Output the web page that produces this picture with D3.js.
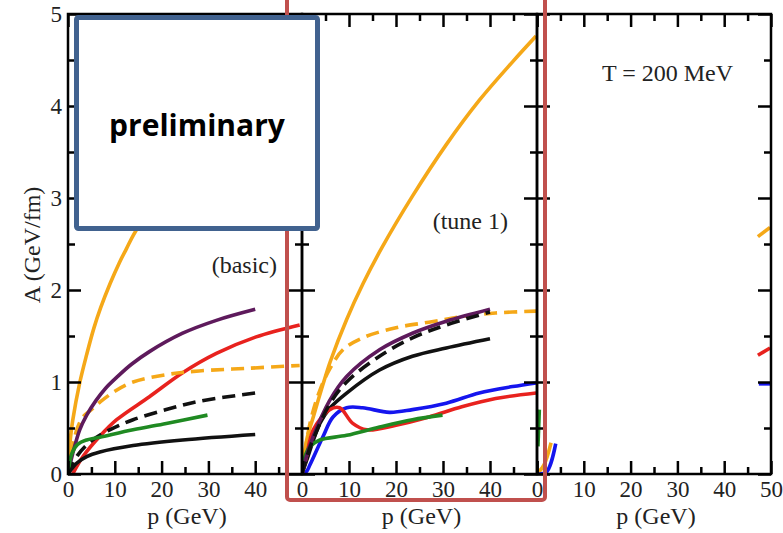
<!DOCTYPE html>
<html><head><meta charset="utf-8">
<script src="https://cdn.jsdelivr.net/npm/d3@7"></script>
<style>body{margin:0;background:#fff;}</style>
</head><body>
<svg id="c" width="783" height="533"></svg>
<script>
// ---------------- DATA ----------------
const panelLabels = ["(basic)", "(tune 1)", "T = 200 MeV"];
const xTickLabels = [[0,10,20,30,40],[0,10,20,30,40],[0,10,20,30,40,50]];
const xMajorTicks = [0,10,20,30,40,50];
const xMinorTicks = [5,15,25,35,45];
const yTickLabels = [0,1,2,3,4,5];
const yMinorTicks = [0.5,1.5,2.5,3.5,4.5];
const xAxisTitle = "p (GeV)";
const yAxisTitle = "A (GeV/fm)";
const stampText = "preliminary";

// Panel 1 (basic): [p, A]
const basicOrange = [[0,0],[0.5,0.38],[1,0.58],[2.5,0.99],[4,1.3],[5.5,1.58],[7,1.81],[9,2.07],[11,2.3],[12.5,2.45],[14,2.6],[20,3.1],[30,3.8],[40,4.4]];
const basicPurple = [[0,0],[1,0.22],[2.5,0.48],[4,0.64],[6,0.8],[8,0.93],[10.4,1.05],[13.5,1.19],[17.4,1.33],[24.5,1.53],[31.7,1.67],[40,1.79]];
const basicRed = [[1,0],[3.2,0.19],[6.8,0.41],[10.4,0.59],[17.4,0.84],[24.5,1.1],[31.7,1.31],[40.2,1.49],[49.5,1.62]];
const basicOrangeDash = [[0,0],[1,0.3],[2,0.5],[3.2,0.62],[5,0.7],[6.8,0.78],[10,0.9],[13.9,1.0],[21,1.08],[28,1.12],[38.7,1.15],[49.5,1.18]];
const basicBlackDash = [[0,0],[2,0.2],[5,0.36],[8.9,0.48],[13.9,0.59],[21,0.7],[28,0.79],[40,0.88]];
const basicGreen = [[0,0],[0.8,0.22],[2,0.32],[4,0.37],[6.8,0.4],[13.9,0.48],[21,0.55],[29.8,0.64]];
const basicBlack = [[0,0],[1.9,0.12],[4,0.19],[6.8,0.24],[13.9,0.31],[24.5,0.37],[40,0.43]];

// Panel 2 (tune 1)
const tuneOrange = [[0,0],[1,0.37],[2.4,0.62],[4.5,0.98],[6,1.22],[9.5,1.68],[13,2.07],[17,2.46],[23.5,3.02],[30.7,3.58],[37.7,4.06],[44.8,4.48],[49.8,4.76]];
const tuneOrangeDash = [[0,0],[1.7,0.55],[3.8,0.91],[6,1.15],[8.7,1.35],[12.9,1.48],[20,1.59],[27,1.65],[34,1.71],[41.2,1.75],[49.8,1.77]];
const tunePurple = [[0,0],[1,0.2],[2.4,0.41],[5.9,0.8],[9.5,1.06],[16.5,1.35],[23.5,1.53],[30.7,1.66],[40,1.79]];
const tuneBlackDash = [[0,0],[1,0.18],[2.4,0.38],[5.9,0.76],[9.5,1.0],[16.5,1.28],[23.5,1.48],[30.7,1.62],[40,1.76]];
const tuneBlack = [[0,0],[1,0.15],[3.8,0.55],[6,0.72],[9.5,0.88],[16.5,1.13],[23.5,1.28],[30.7,1.37],[40,1.47]];
const tuneBlue = [[0,0],[1,0.03],[1.7,0.1],[4.5,0.41],[6.6,0.62],[9.5,0.72],[12.9,0.72],[18.6,0.67],[23.5,0.7],[30.7,0.77],[37.7,0.88],[44.8,0.95],[49.8,0.99]];
const tuneRed = [[0,0],[1,0.2],[2.4,0.48],[5.9,0.7],[8,0.72],[10.8,0.55],[13.8,0.48],[20,0.53],[27,0.62],[34,0.73],[41.2,0.82],[49.8,0.88]];
const tuneGreen = [[0,0],[0.7,0.2],[1.7,0.3],[3.8,0.37],[9.5,0.42],[16.5,0.51],[23.5,0.59],[29.9,0.64]];

// Panel 3 (T = 200 MeV): only fragments remain visible
const hotOrangeLeft = [[0,0],[1.5,0.1],[3.0,0.34]];
const hotBlueLeft = [[0,0],[2,0.02],[4,0.33]];
const hotGreenLeft = [[0.2,0.3],[0.5,0.7]];
const hotOrangeRight = [[47.2,2.58],[49.8,2.68]];
const hotRedRight = [[47.2,1.29],[49.8,1.37]];
const hotBlueRight = [[47.4,0.98],[49.8,0.98]];

// ---------------- STYLE / LAYOUT ----------------
const COL = {orange:"#f5a818", purple:"#5e1a5c", red:"#e8221e", black:"#111111", green:"#1f8a22", blue:"#1515ee"};
const series = [
  {p:0, d:basicOrange, c:COL.orange},
  {p:0, d:basicRed, c:COL.red},
  {p:0, d:basicOrangeDash, c:COL.orange, dash:true},
  {p:0, d:basicPurple, c:COL.purple},
  {p:0, d:basicBlackDash, c:COL.black, dash:true},
  {p:0, d:basicGreen, c:COL.green},
  {p:0, d:basicBlack, c:COL.black},
  {p:1, d:tuneOrange, c:COL.orange},
  {p:1, d:tuneOrangeDash, c:COL.orange, dash:true},
  {p:1, d:tuneBlack, c:COL.black},
  {p:1, d:tuneBlue, c:COL.blue},
  {p:1, d:tuneRed, c:COL.red},
  {p:1, d:tuneGreen, c:COL.green},
  {p:1, d:tunePurple, c:COL.purple},
  {p:1, d:tuneBlackDash, c:COL.black, dash:true},
  {p:2, d:hotGreenLeft, c:COL.green},
  {p:2, d:hotOrangeLeft, c:COL.orange},
  {p:2, d:hotBlueLeft, c:COL.blue},
  {p:2, d:hotOrangeRight, c:COL.orange},
  {p:2, d:hotRedRight, c:COL.red},
  {p:2, d:hotBlueRight, c:COL.blue}
];

const panelRanges = [[68,302],[302,537],[537,771]];
const yTop = 14, yBot = 474;
const y = d3.scaleLinear().domain([0,5]).range([yBot,yTop]);
const xs = panelRanges.map(r => d3.scaleLinear().domain([0,50]).range(r));
const svg = d3.select("#c");
const serif = "'Liberation Serif','Times New Roman',serif";

const defs = svg.append("defs");
xs.forEach((x,i)=>{
  defs.append("clipPath").attr("id","clip"+i).append("rect")
    .attr("x",x.range()[0]).attr("y",yTop).attr("width",x.range()[1]-x.range()[0]).attr("height",yBot-yTop);
});

// curves
const gLines = svg.append("g");
series.forEach(s=>{
  const x = xs[s.p];
  const ln = d3.line().x(d=>x(d[0])).y(d=>y(d[1])).curve(d3.curveCatmullRom.alpha(0.5));
  gLines.append("path").attr("d",ln(s.d))
    .attr("clip-path",`url(#clip${s.p})`)
    .attr("fill","none").attr("stroke",s.c).attr("stroke-width",3.6)
    .attr("stroke-linecap","butt")
    .attr("stroke-dasharray", s.dash ? "13,7" : null);
});

// axes
function styleAxis(g){
  g.select(".domain").remove();
  g.selectAll(".tick line").attr("stroke","#000").attr("stroke-width",2.5);
  g.selectAll(".tick text").attr("fill","#222").style("font-family",serif).style("font-size","23px");
}
xs.forEach((x,i)=>{
  const g = svg.append("g");
  const x0 = x.range()[0], x1 = x.range()[1];
  const labs = xTickLabels[i];
  g.append("g").attr("transform",`translate(0,${yBot})`)
    .call(d3.axisBottom(x).tickValues(xMajorTicks).tickSize(-13).tickPadding(7)
      .tickFormat(d=>labs.includes(d)?d:"")).call(styleAxis);
  g.append("g").attr("transform",`translate(0,${yBot})`)
    .call(d3.axisBottom(x).tickValues(xMinorTicks).tickSize(-7).tickFormat("")).call(styleAxis);
  g.append("g").attr("transform",`translate(0,${yTop})`)
    .call(d3.axisTop(x).tickValues(xMajorTicks).tickSize(-13).tickFormat("")).call(styleAxis);
  g.append("g").attr("transform",`translate(0,${yTop})`)
    .call(d3.axisTop(x).tickValues(xMinorTicks).tickSize(-7).tickFormat("")).call(styleAxis);
  g.append("g").attr("transform",`translate(${x0},0)`)
    .call(d3.axisLeft(y).tickValues(yTickLabels).tickSize(-13).tickPadding(6)
      .tickFormat(d=> i===0 ? d : "")).call(styleAxis);
  g.append("g").attr("transform",`translate(${x0},0)`)
    .call(d3.axisLeft(y).tickValues(yMinorTicks).tickSize(-7).tickFormat("")).call(styleAxis);
  g.append("g").attr("transform",`translate(${x1},0)`)
    .call(d3.axisRight(y).tickValues(yTickLabels).tickSize(-13).tickFormat("")).call(styleAxis);
  g.append("g").attr("transform",`translate(${x1},0)`)
    .call(d3.axisRight(y).tickValues(yMinorTicks).tickSize(-7).tickFormat("")).call(styleAxis);
  g.append("rect").attr("x",x0).attr("y",yTop).attr("width",x1-x0).attr("height",yBot-yTop)
    .attr("fill","none").attr("stroke","#000").attr("stroke-width",2.5);
  // x title
  svg.append("text").attr("x",(x0+x1)/2+2).attr("y",524).attr("text-anchor","middle")
    .style("font-family",serif).style("font-size","24px").attr("fill","#222").text(xAxisTitle);
});

// y title
svg.append("text").attr("transform","translate(40,245) rotate(-90)").attr("text-anchor","middle")
  .style("font-family",serif).style("font-size","24px").attr("fill","#222").text(yAxisTitle);

// panel labels
const labelPos = [[277,273],[508,229],[733,81]];
panelLabels.forEach((t,i)=>{
  svg.append("text").attr("x",labelPos[i][0]).attr("y",labelPos[i][1]).attr("text-anchor","end")
    .style("font-family",serif).style("font-size","24px").attr("fill","#222").text(t);
});

// red highlight frame
svg.append("rect").attr("x",287).attr("y",-10).attr("width",258).attr("height",510).attr("rx",3)
  .attr("fill","none").attr("stroke","#c0504d").attr("stroke-width",4);

// preliminary box
svg.append("rect").attr("x",76.5).attr("y",17.5).attr("width",241).attr("height",211).attr("rx",2)
  .attr("fill","#fff").attr("stroke","#41628f").attr("stroke-width",5);
svg.append("text").attr("x",197).attr("y",136).attr("text-anchor","middle")
  .style("font-family","'Open Sans','Noto Sans',sans-serif").style("font-weight","bold").style("font-size","30px")
  .attr("fill","#000").text(stampText);
</script>
</body></html>
